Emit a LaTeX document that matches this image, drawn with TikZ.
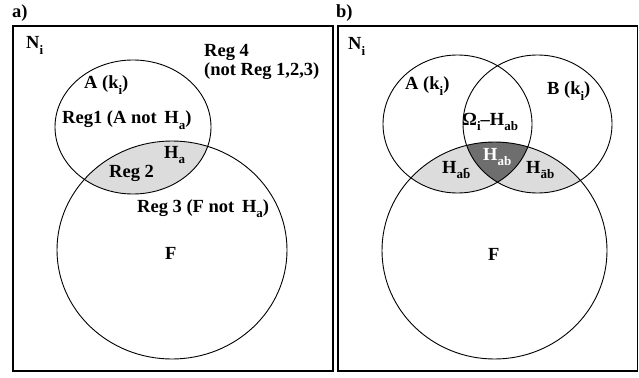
\documentclass[tikz,border=0pt]{standalone}
\usepackage{fontspec}
\setmainfont{Liberation Serif}
\newcommand{\sbs}[1]{\raisebox{-0.32em}{\fontsize{13}{13}\selectfont #1}}
\definecolor{lightg}{RGB}{220,220,220}
\definecolor{darkg}{RGB}{110,110,110}
\begin{document}
\begin{tikzpicture}[x=1pt,y=-1pt,
  lbl/.style={inner sep=0pt, anchor=base west, font=\fontsize{18.5}{20}\selectfont\bfseries},
  frame/.style={line width=1.3pt, draw=black},
  ring/.style={line width=0.9pt, draw=black}]
\useasboundingbox (0,0) rectangle (639,377);
% panel labels
\node[lbl] (la) at (12,18) {a)};
\node[lbl] (lb) at (336,18) {b)};
% ---------------- panel a
\begin{scope}
  \clip (133,127) ellipse [x radius=78pt, y radius=67pt];
  \fill[lightg] (172,250) ellipse [x radius=115pt, y radius=109pt];
\end{scope}
\draw[ring] (133,127) ellipse [x radius=78pt, y radius=67pt];
\draw[ring] (172,250) ellipse [x radius=115pt, y radius=109pt];
\draw[frame] (13,26) rectangle (333,371);
\node[lbl] (aN) at (26,49) {N\sbs{i}};
\node[lbl] (aR4) at (204,56.5) {Reg 4};
\node[lbl] (aR4b) at (204,76) {(not Reg 1,2,3)};
\node[lbl] (aA) at (84,89) {A (k\sbs{i})};
\node[lbl] (aR1) at (62,124) {Reg1 (A not\, H\sbs{a})};
\node[lbl] (aHa) at (164,158) {H\sbs{a}};
\node[lbl] (aR2) at (109,177) {Reg 2};
\node[lbl] (aR3) at (137,212) {Reg 3 (F not\, H\sbs{a})};
\node[lbl] (aF) at (165,259) {F};
% ---------------- panel b
\begin{scope}
  \clip (494.5,250.5) ellipse [x radius=112.5pt, y radius=108.5pt];
  \fill[lightg] (457.5,124) ellipse [x radius=74.5pt, y radius=69pt];
  \fill[lightg] (537.5,124) ellipse [x radius=74.5pt, y radius=69pt];
  \clip (457.5,124) ellipse [x radius=74.5pt, y radius=69pt];
  \fill[darkg] (537.5,124) ellipse [x radius=74.5pt, y radius=69pt];
\end{scope}
\draw[ring] (457.5,124) ellipse [x radius=74.5pt, y radius=69pt];
\draw[ring] (537.5,124) ellipse [x radius=74.5pt, y radius=69pt];
\draw[ring] (494.5,250.5) ellipse [x radius=112.5pt, y radius=108.5pt];
\draw[frame] (338,26) rectangle (637.5,371);
\node[lbl] (bN) at (348,50) {N\sbs{i}};
\node[lbl] (bA) at (405,90) {A (k\sbs{i})};
\node[lbl] (bB) at (547,95) {B (k\sbs{i})};
\node[lbl] (bO) at (462,125) {Ω\sbs{i}–H\sbs{ab}};
\node[lbl, text=white] (bHab) at (483,160) {H\sbs{ab}};
\node[lbl] (bHa) at (442,173) {H\sbs{a\={b}}};
\node[lbl] (bHb) at (526,173) {H\sbs{\={a}b}};
\node[lbl] (bF) at (488,260) {F};
\end{tikzpicture}
\end{document}
